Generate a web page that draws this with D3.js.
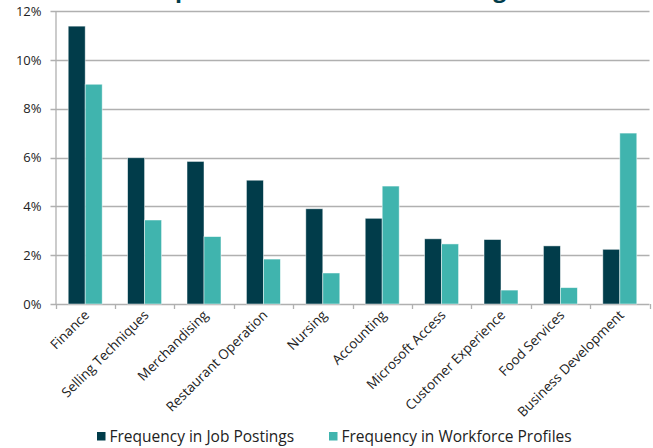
<!DOCTYPE html>
<html>
<head>
<meta charset="utf-8">
<script src="https://cdnjs.cloudflare.com/ajax/libs/d3/7.8.5/d3.min.js"></script>
<style>
  body { margin: 0; background: #fff; }
  svg { display: block; font-family: "Open Sans", sans-serif; }
</style>
</head>
<body>
<div id="chart"></div>
<script>
// chart values
var skills = ["Finance", "Selling Techniques", "Merchandising", "Restaurant Operation", "Nursing",
              "Accounting", "Microsoft Access", "Customer Experience", "Food Services", "Business Development"];
var seriesNames = ["Frequency in Job Postings", "Frequency in Workforce Profiles"];
var jobPostings = [11.38, 5.99, 5.84, 5.07, 3.90, 3.51, 2.67, 2.64, 2.38, 2.24];
var workforceProfiles = [9.0, 3.44, 2.76, 1.84, 1.27, 4.83, 2.46, 0.57, 0.67, 7.0];
var yTicks = [0, 2, 4, 6, 8, 10, 12];
var colors = ["#013c4a", "#40b4ae"];

var width = 653, height = 448;
var plotLeft = 55.5, plotRight = 649.5, plotTop = 11, plotBottom = 304;

var svg = d3.select("#chart").append("svg")
    .attr("width", width)
    .attr("height", height);

// title, mostly cut off above the frame (only descenders show)
svg.append("text")
    .attr("x", 345)
    .attr("y", -3.3)
    .attr("text-anchor", "middle")
    .attr("fill", "#013c4a")
    .style("font-weight", "bold")
    .style("font-size", "23px")
    .text("Top Skills Demanded in the Region");

var x0 = d3.scaleBand()
    .domain(skills)
    .range([plotLeft, plotRight])
    .paddingInner(0.428)
    .paddingOuter(0.214);

var x1 = d3.scaleBand()
    .domain(seriesNames)
    .range([0, x0.bandwidth()]);

var y = d3.scaleLinear()
    .domain([0, 12])
    .range([plotBottom, plotTop]);

// gridlines
svg.append("g")
    .selectAll("line")
    .data(yTicks)
    .enter()
    .append("line")
    .attr("x1", plotLeft - 5)
    .attr("x2", plotRight)
    .attr("y1", function(d) { return Math.round(y(d)) + 0.5; })
    .attr("y2", function(d) { return Math.round(y(d)) + 0.5; })
    .attr("stroke", "#b0b0b0")
    .attr("stroke-width", 1.3);

// y axis
var yAxis = d3.axisLeft(y)
    .tickValues(yTicks)
    .tickSize(0)
    .tickPadding(14)
    .tickFormat(function(d) { return d + "%"; });

var gy = svg.append("g")
    .attr("transform", "translate(" + plotLeft + ",0)")
    .call(yAxis);
gy.select(".domain").attr("stroke", "#b0b0b0").attr("stroke-width", 1.3);
gy.selectAll("text")
    .attr("fill", "#222")
    .style("font-size", "13px")
    .style("font-family", "'Open Sans', sans-serif");

// x axis ticks at category boundaries
var bounds = d3.range(skills.length + 1).map(function(i) { return plotLeft + i * x0.step(); });
svg.append("g")
    .selectAll("line")
    .data(bounds)
    .enter()
    .append("line")
    .attr("x1", function(d) { return Math.round(d) + 0.5; })
    .attr("x2", function(d) { return Math.round(d) + 0.5; })
    .attr("y1", plotBottom)
    .attr("y2", plotBottom + 5)
    .attr("stroke", "#b0b0b0")
    .attr("stroke-width", 1.3);

// bars
var rows = skills.map(function(s, i) {
    return { skill: s, values: [jobPostings[i], workforceProfiles[i]] };
});

var groups = svg.selectAll("g.skill")
    .data(rows)
    .enter()
    .append("g")
    .attr("class", "skill")
    .attr("transform", function(d) { return "translate(" + x0(d.skill) + ",0)"; });

groups.selectAll("rect")
    .data(function(d) {
        return d.values.map(function(v, j) { return { series: seriesNames[j], value: v, idx: j }; });
    })
    .enter()
    .append("rect")
    .attr("x", function(d) { return x1(d.series); })
    .attr("width", x1.bandwidth())
    .attr("y", function(d) { return y(d.value); })
    .attr("height", function(d) { return plotBottom - y(d.value); })
    .attr("fill", function(d) { return colors[d.idx]; })
    .attr("stroke", "rgba(255,255,255,0.6)")
    .attr("stroke-width", 0.8);

// category labels, rotated
svg.append("g")
    .selectAll("text")
    .data(skills)
    .enter()
    .append("text")
    .attr("transform", function(d) {
        return "translate(" + (x0(d) + x0.bandwidth() / 2 + 5) + "," + (plotBottom + 12) + ") rotate(-45)";
    })
    .attr("text-anchor", "end")
    .attr("fill", "#222")
    .style("font-size", "13.5px")
    .text(function(d) { return d; });

// legend
var legendX = [97, 329];
var legend = svg.append("g")
    .selectAll("g")
    .data(seriesNames)
    .enter()
    .append("g")
    .attr("transform", function(d, i) { return "translate(" + legendX[i] + ",432)"; });

legend.append("rect")
    .attr("width", 8.5)
    .attr("height", 8.5)
    .attr("fill", function(d, i) { return colors[i]; });

legend.append("text")
    .attr("x", 12.5)
    .attr("y", 9.5)
    .attr("fill", "#222")
    .style("font-size", "15.5px")
    .text(function(d) { return d; });
</script>
</body>
</html>
